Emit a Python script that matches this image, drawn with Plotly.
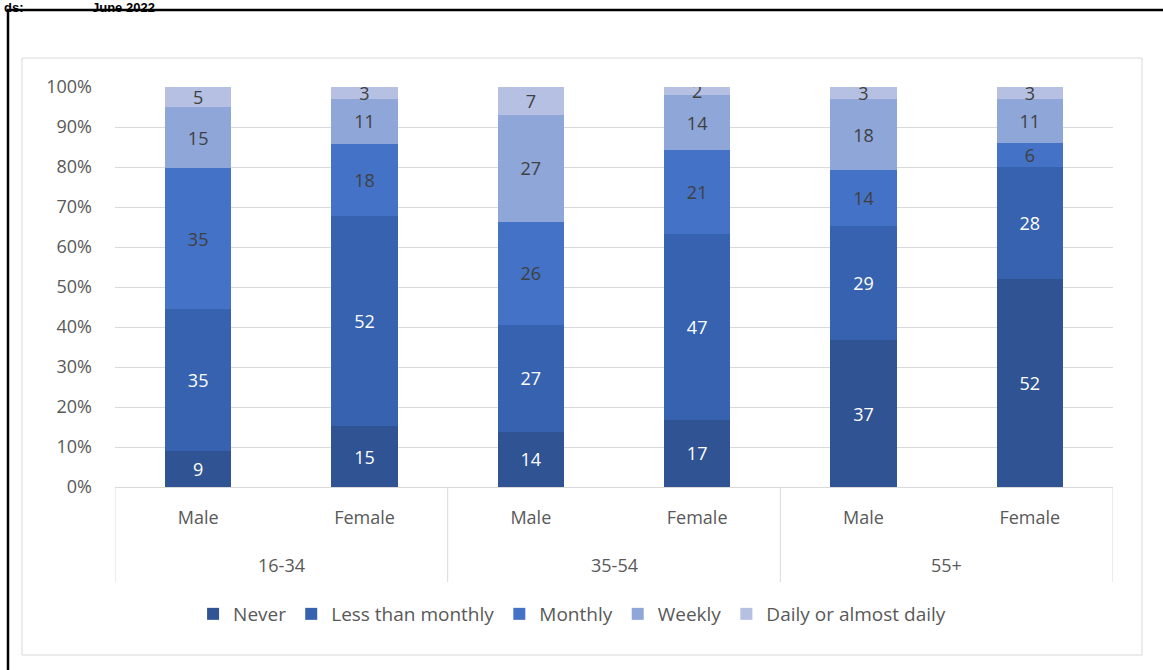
import plotly.graph_objects as go

groups = ["16-34", "35-54", "55+"]
sexes = ["Male", "Female"]
series_names = ["Never", "Less than monthly", "Monthly", "Weekly", "Daily or almost daily"]
never = [9, 15, 14, 17, 37, 52]
less_than_monthly = [35, 52, 27, 47, 29, 28]
monthly = [35, 18, 26, 21, 14, 6]
weekly = [15, 11, 27, 14, 18, 11]
daily = [5, 3, 7, 2, 3, 3]
y_ticks = [0, 10, 20, 30, 40, 50, 60, 70, 80, 90, 100]

colors = ["#2F5393", "#3662B0", "#4472C6", "#8EA6D8", "#B5C0E3"]
label_colors = ["white", "white", "#404040", "#404040", "#404040"]
series_values = [never, less_than_monthly, monthly, weekly, daily]

x_labels = [s for g in groups for s in sexes]
x_pos = list(range(len(x_labels)))

FONT = "Open Sans"
FS = 18
fig = go.Figure()
for name, vals, col, lc in zip(series_names, series_values, colors, label_colors):
    fig.add_trace(go.Bar(
        x=x_pos, y=vals, name=name, marker=dict(color=col, line=dict(width=0)),
        text=[str(v) for v in vals], textposition="inside", insidetextanchor="middle",
        textangle=0, constraintext="none",
        textfont=dict(color=lc, size=FS, family=FONT), width=0.4,
    ))

W, H = 1163, 670
L, R, T, B = 115, 1113, 87, 487
pw, ph = R - L, B - T

def px(x):
    return (x - L) / pw

def py(y):
    return (B - y) / ph

shapes = []
# outer black frame
shapes.append(dict(type="rect", xref="paper", yref="paper",
                   x0=px(8), x1=px(1175), y0=py(690), y1=py(10),
                   line=dict(color="black", width=2.5), fillcolor="rgba(0,0,0,0)", layer="below"))
# inner gray frame
shapes.append(dict(type="rect", xref="paper", yref="paper",
                   x0=px(22), x1=px(1142), y0=py(655), y1=py(58),
                   line=dict(color="#D9D9D9", width=1), fillcolor="rgba(0,0,0,0)", layer="below"))
# group separators
n = len(sexes)
for i in range(len(groups) + 1):
    xv = i * n - 0.5
    shapes.append(dict(type="line", xref="x", yref="paper", x0=xv, x1=xv,
                       y0=0, y1=py(582), line=dict(color="#D9D9D9", width=1)))

annotations = []
for gi, g in enumerate(groups):
    annotations.append(dict(x=gi * n + (n - 1) / 2, y=py(565), xref="x", yref="paper",
                            yanchor="middle", text=g, showarrow=False,
                            font=dict(size=FS, color="#595959", family=FONT)))
annotations.append(dict(x=px(2), y=py(-2), xref="paper", yref="paper", xanchor="left",
                        yanchor="top", text="<b>ds:</b>", showarrow=False,
                        font=dict(size=13, color="black", family="Liberation Sans")))
annotations.append(dict(x=px(90), y=py(-2), xref="paper", yref="paper", xanchor="left",
                        yanchor="top", text="<b>June 2022</b>", showarrow=False,
                        font=dict(size=13, color="black", family="Liberation Sans")))

fig.update_layout(
    width=W, height=H, barmode="stack", barnorm="percent",
    margin=dict(l=L, r=W - R, t=T, b=H - B, pad=0),
    paper_bgcolor="white", plot_bgcolor="white",
    font=dict(family=FONT, color="#595959", size=FS),
    xaxis=dict(tickmode="array", tickvals=x_pos, ticktext=x_labels, range=[-0.5, len(x_pos) - 0.5],
               showline=True, linecolor="#D9D9D9", linewidth=1, ticks="", showgrid=False,
               tickfont=dict(size=FS, color="#595959"), ticklabelstandoff=14),
    yaxis=dict(range=[0, 100], tickvals=y_ticks, ticktext=[f"{v}%" for v in y_ticks],
               showgrid=True, gridcolor="#D9D9D9", gridwidth=1, zeroline=False,
               showline=False, ticks="", tickfont=dict(size=FS, color="#595959"),
               ticklabelstandoff=22),
    legend=dict(orientation="h", x=0.458, xanchor="center", y=py(614), yanchor="middle",
                font=dict(size=19, color="#595959"), itemwidth=30, traceorder="normal",
                bgcolor="rgba(0,0,0,0)"),
    shapes=shapes, annotations=annotations, showlegend=True,
)
fig.write_html("out.html")
